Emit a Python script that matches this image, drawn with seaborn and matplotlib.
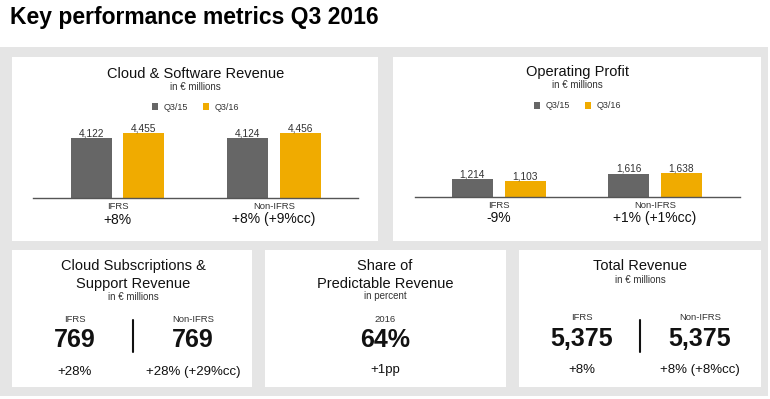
import matplotlib
matplotlib.use("Agg")
import matplotlib.pyplot as plt
from matplotlib.patches import Rectangle
from matplotlib.lines import Line2D
import pandas as pd
import seaborn as sns

# ---- data ----
groups = ["IFRS", "Non-IFRS"]
periods = ["Q3/15", "Q3/16"]

cloud_sw_q315 = [4122, 4124]
cloud_sw_q316 = [4455, 4456]
cloud_sw_growth = ["+8%", "+8% (+9%cc)"]

op_profit_q315 = [1214, 1616]
op_profit_q316 = [1103, 1638]
op_profit_growth = ["-9%", "+1% (+1%cc)"]

cloud_sub_values = [769, 769]
cloud_sub_growth = ["+28%", "+28% (+29%cc)"]

predictable_year = "2016"
predictable_share = 64
predictable_change = "+1pp"

total_rev_values = [5375, 5375]
total_rev_growth = ["+8%", "+8% (+8%cc)"]

DARK = "#666666"
GOLD = "#F0AB00"
BG = "#E5E5E5"
INK = "#111111"
SOFT = "#333333"

sns.set_style("white")
plt.rcParams["font.family"] = ["Liberation Sans", "DejaVu Sans"]

W, H = 770, 399
fig = plt.figure(figsize=(7.7, 3.99), dpi=100)
fig.patch.set_facecolor("white")


def box(x0, y0, x1, y1):
    return [x0 / W, 1 - y1 / H, (x1 - x0) / W, (y1 - y0) / H]


def ftext(x, y, s, **kw):
    kw.setdefault("ha", "center")
    kw.setdefault("va", "baseline")
    kw.setdefault("color", INK)
    fig.text(x / W, 1 - y / H, s, **kw)


def rect(x0, y0, x1, y1, color, z):
    fig.add_artist(Rectangle((x0 / W, 1 - y1 / H), (x1 - x0) / W, (y1 - y0) / H,
                             transform=fig.transFigure, facecolor=color,
                             edgecolor="none", zorder=z))


# background and white cards
rect(0, 47, 768, 396, BG, -3)
for (x0, y0, x1, y1) in [(12, 57, 378, 241), (393, 57, 761, 241),
                         (12, 250, 252, 387), (265, 250, 506, 387),
                         (519, 250, 761, 387)]:
    rect(x0, y0, x1, y1, "white", -2)

ftext(10, 24, "Key performance metrics Q3 2016", ha="left", fontsize=16.5,
      fontweight="bold", color="#000000")


def bar_panel(x0, x1, base, q315, q316, growth, xlim, title, title_y, legend_y):
    top = base - 78
    ax = fig.add_axes(box(x0, top, x1, base))
    ax.set_facecolor("none")
    df = pd.DataFrame({
        "group": groups * 2,
        "period": [periods[0]] * len(groups) + [periods[1]] * len(groups),
        "value": q315 + q316,
    })
    sns.barplot(data=df, x="group", y="value", hue="period",
                palette=[DARK, GOLD], saturation=1, width=0.677, gap=0.226,
                linewidth=0, ax=ax)
    for c in ax.containers:
        ax.bar_label(c, labels=[f"{v:,.0f}" for v in c.datavalues],
                     padding=0, fontsize=7.3, color=SOFT)
    ax.set_xlim(xlim)
    ax.set_ylim(0, 5380)
    ax.set_xlabel("")
    ax.set_ylabel("")
    ax.set_yticks([])
    ax.set_xticks([])
    for s in ["top", "left", "right"]:
        ax.spines[s].set_visible(False)
    ax.spines["bottom"].set_color("#555555")
    ax.spines["bottom"].set_linewidth(1)

    def fy(y):
        return (base - y) / 78.0

    tr = ax.get_xaxis_transform()
    for i, g in enumerate(groups):
        ax.text(i, fy(base + 11), g, transform=tr, ha="center", va="baseline",
                fontsize=6.8, color=SOFT)
        ax.text(i, fy(base + 25.5), growth[i], transform=tr, ha="center",
                va="baseline", fontsize=10, color=INK)

    ax.legend(loc="center", bbox_to_anchor=(0.5, fy(legend_y)), ncol=2,
              frameon=False, fontsize=6.5, handlelength=0.75, handleheight=0.75,
              handletextpad=0.6, columnspacing=1.6, labelcolor=SOFT)

    cx = (x0 + x1) / 2
    ftext(cx, title_y, title, fontsize=10.5)
    ftext(cx, title_y + 11.5, "in € millions", fontsize=7, color=SOFT)


bar_panel(33, 358, 198, cloud_sw_q315, cloud_sw_q316, cloud_sw_growth,
          (-0.54, 1.537), "Cloud & Software Revenue", 78, 107)
bar_panel(415, 740, 197, op_profit_q315, op_profit_q316, op_profit_growth,
          (-0.534, 1.543), "Operating Profit", 76, 106)


def divider(x):
    fig.add_artist(Line2D([x / W, x / W], [1 - 320 / H, 1 - 352 / H],
                          transform=fig.transFigure, color="#111111", lw=1.5))


# Cloud subscriptions & support
ftext(133, 270, "Cloud Subscriptions &", fontsize=10.5)
ftext(133, 288, "Support Revenue", fontsize=10.5)
ftext(133, 300, "in € millions", fontsize=7, color=SOFT)
for i, xc in enumerate([75, 193]):
    ftext(xc, 322, groups[i], fontsize=6.8, color=SOFT)
    ftext(xc, 347, f"{cloud_sub_values[i]:,}", fontsize=18, fontweight="bold")
    ftext(xc, 375, cloud_sub_growth[i], fontsize=9.5)
divider(133)

# Share of predictable revenue
ftext(385, 270, "Share of", fontsize=10.5)
ftext(385, 288, "Predictable Revenue", fontsize=10.5)
ftext(385, 299, "in percent", fontsize=7, color=SOFT)
ftext(385, 322, predictable_year, fontsize=6.8, color=SOFT)
ftext(385, 347, f"{predictable_share}%", fontsize=18, fontweight="bold")
ftext(385, 373, predictable_change, fontsize=9.5)

# Total revenue
ftext(640, 270, "Total Revenue", fontsize=10.5)
ftext(640, 283, "in € millions", fontsize=7, color=SOFT)
for i, xc in enumerate([582, 700]):
    ftext(xc, 320, groups[i], fontsize=6.8, color=SOFT)
    ftext(xc, 346, f"{total_rev_values[i]:,}", fontsize=18, fontweight="bold")
    ftext(xc, 373, total_rev_growth[i], fontsize=9.5)
divider(640)

fig.savefig("out.png", dpi=100)
